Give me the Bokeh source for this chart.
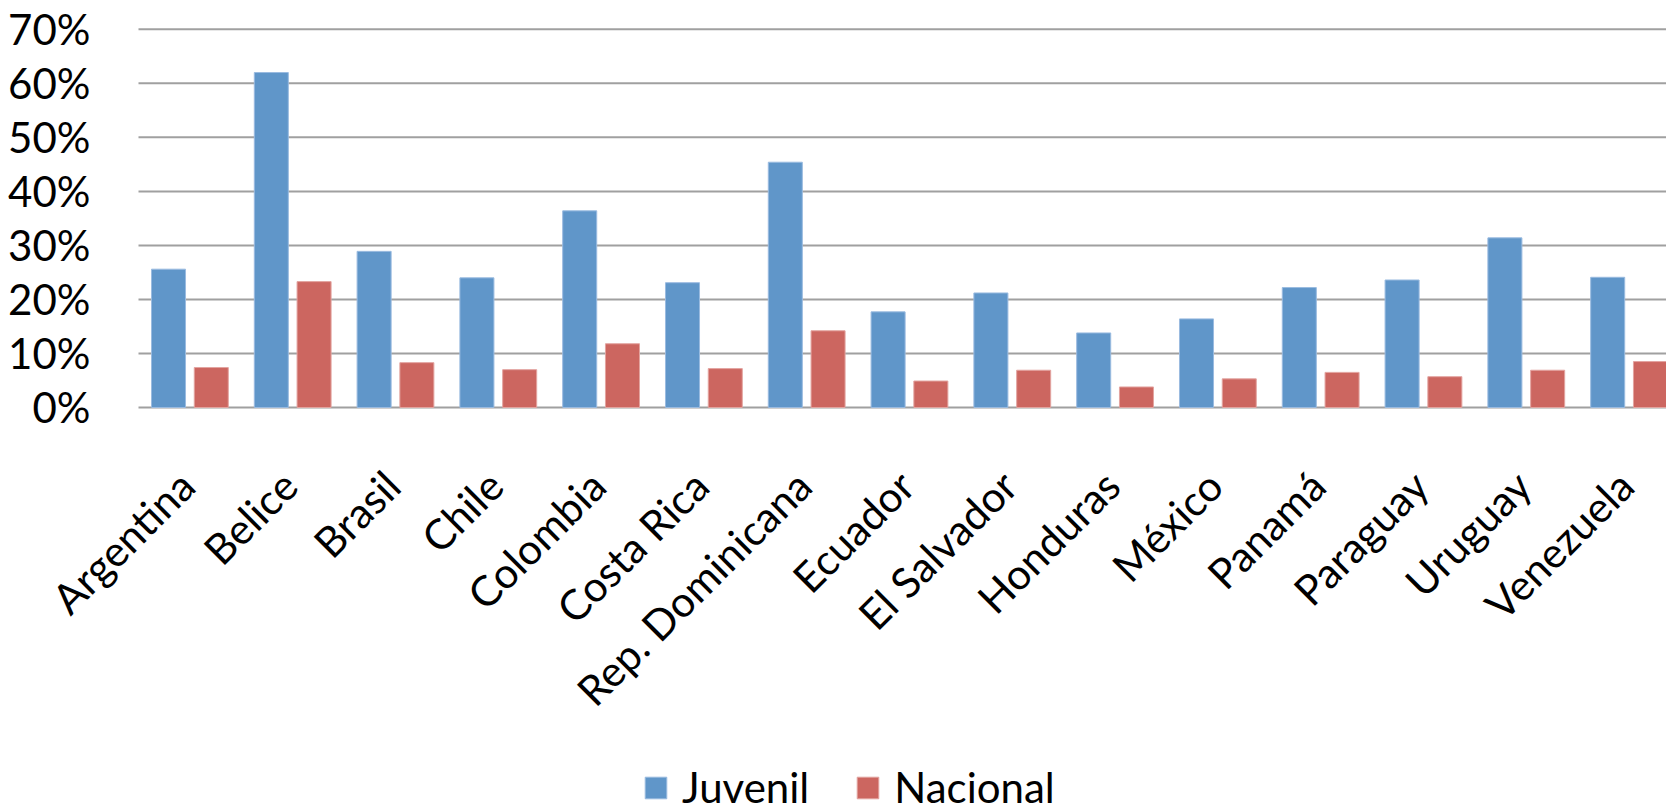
import math
from bokeh.plotting import figure
from bokeh.models import ColumnDataSource, Range1d, Legend, LegendItem
from bokeh.core.properties import value
from bokeh.transform import dodge
from bokeh.embed import file_html
from bokeh.resources import INLINE

countries = ["Argentina", "Belice", "Brasil", "Chile", "Colombia", "Costa Rica",
             "Rep. Dominicana", "Ecuador", "El Salvador", "Honduras", "México",
             "Panamá", "Paraguay", "Uruguay", "Venezuela"]
juvenil = [0.256, 0.620, 0.289, 0.240, 0.364, 0.231, 0.454, 0.177, 0.212, 0.138,
           0.164, 0.222, 0.236, 0.314, 0.241]
nacional = [0.074, 0.233, 0.083, 0.070, 0.118, 0.072, 0.142, 0.049, 0.069, 0.038,
            0.053, 0.065, 0.057, 0.069, 0.085]
y_ticks = [0.0, 0.1, 0.2, 0.3, 0.4, 0.5, 0.6, 0.7]
y_labels = ["0%", "10%", "20%", "30%", "40%", "50%", "60%", "70%"]

BLUE = "#6096C9"
RED = "#CC6660"
GRID = "#A0A0A0"
FONT = "Lato"

X_START, X_END = -1.8424, 14.364   # frame covers the whole page
Y_START, Y_END = -0.7496, 0.7533

idx = list(range(len(countries)))
source = ColumnDataSource(dict(idx=idx, country=countries,
                               juvenil=juvenil, nacional=nacional))
tick_src = ColumnDataSource(dict(y=y_ticks, label=y_labels))

p = figure(frame_width=1666, frame_height=812,
           x_range=Range1d(X_START, X_END), y_range=Range1d(Y_START, Y_END),
           output_backend="svg", toolbar_location=None,
           x_axis_location=None, y_axis_location=None,
           min_border_left=0, min_border_right=0, min_border_top=0,
           min_border_bottom=0)
p.outline_line_color = None
p.background_fill_color = "white"
p.border_fill_color = "white"
p.grid.visible = False

# horizontal gridlines (the 0% one doubles as the category axis line)
p.segment(x0=-0.5, y0="y", x1=X_END, y1="y", source=tick_src,
          line_color=GRID, line_width=2)

r1 = p.vbar(x=dodge("idx", -0.208), top="juvenil", width=0.331, bottom=0,
            source=source, fill_color=BLUE, line_color="#9ABBE0", line_width=1)
r2 = p.vbar(x=dodge("idx", 0.208), top="nacional", width=0.331, bottom=0,
            source=source, fill_color=RED, line_color="#E3A4A0", line_width=1)

# percentage tick labels on the left
p.text(x=-0.967, y="y", text="label", source=tick_src,
       text_align="right", text_baseline="middle",
       text_font=value(FONT), text_font_size=value("42px"), text_color="black")

# category labels, rotated 45 degrees, ending under each category
p.text(x=dodge("idx", -0.204), y=-0.098, text="country", source=source,
       angle=math.pi / 4, text_align="right", text_baseline="top",
       text_font=value(FONT), text_font_size=value("42px"), text_color="black")

legend = Legend(items=[LegendItem(label="Juvenil", renderers=[r1]),
                       LegendItem(label="Nacional", renderers=[r2])],
                orientation="horizontal", location=(642, 0),
                glyph_width=27, glyph_height=27, label_standoff=13, spacing=45,
                padding=0, margin=0, border_line_color=None,
                background_fill_color=None,
                label_text_font=FONT, label_text_font_size="42px",
                label_text_color="black")
p.add_layout(legend, "center")

open("out.html", "w").write(file_html(p, INLINE))
